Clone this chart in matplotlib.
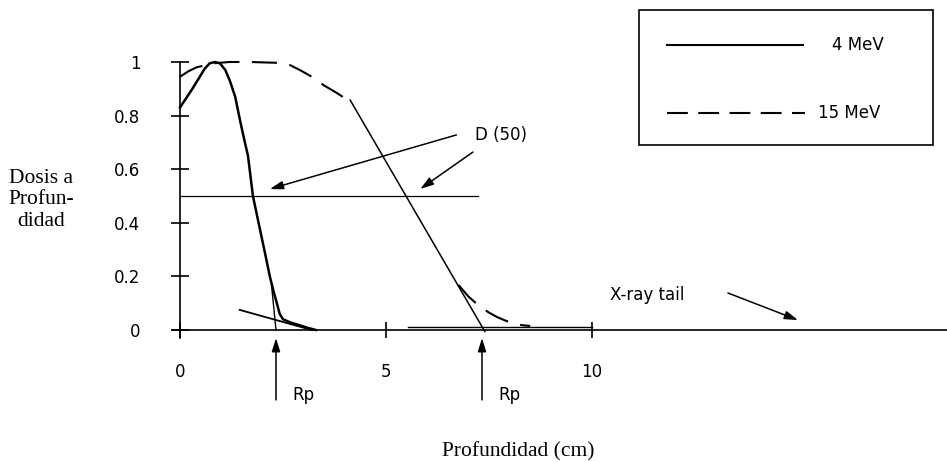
import numpy as np
import matplotlib
matplotlib.use("Agg")
import matplotlib.pyplot as plt

# depth-dose curves (x in cm, relative dose)
mev4_x = [0, 0.3, 0.6, 0.72, 0.85, 0.97, 1.1, 1.21, 1.34, 1.46, 1.56, 1.65, 1.77, 1.88, 1.99,
          2.1, 2.18, 2.27, 2.35, 2.42, 2.5, 2.7, 2.9, 3.1, 3.3]
mev4_y = [0.83, 0.90, 0.975, 0.995, 1.0, 0.995, 0.97, 0.93, 0.87, 0.78, 0.71, 0.65, 0.50, 0.42, 0.34,
          0.26, 0.20, 0.145, 0.10, 0.06, 0.04, 0.027, 0.018, 0.008, 0.0]

mev15_x = np.array([0, 0.2, 0.4, 0.8, 1.2, 1.7, 2.35, 2.65, 2.91, 3.2, 3.48, 3.8, 4.13, 4.8, 5.5, 6.2,
                    6.76, 7.0, 7.28, 7.5, 7.7, 7.9, 8.08, 8.3, 8.5])
mev15_y = np.array([0.945, 0.965, 0.98, 0.995, 1.0, 1.0, 0.997, 0.99, 0.97, 0.945, 0.914, 0.885, 0.852,
                    0.68, 0.50, 0.32, 0.168, 0.125, 0.087, 0.065, 0.048, 0.035, 0.025, 0.018, 0.015])

# tangent lines used to define the practical range Rp
tan4_tail_x = [1.45, 3.2]
tan4_tail_y = [0.075, 0.0]
tan4_steep_x = [2.22, 2.33]
tan4_steep_y = [0.17, 0.0]
tan15_x = [4.13, 7.4]
tan15_y = [0.858, -0.006]

xray_x = [5.53, 10.0]
xray_y = [0.012, 0.012]

d50_level = 0.5
d50_xmax = 7.23
rp_values = [2.33, 7.33]

yticks = [0, 0.2, 0.4, 0.6, 0.8, 1]
ytick_labels = ["0", "0.2", "0.4", "0.6", "0.8", "1"]
xticks = [0, 5, 10]
xtick_labels = ["0", "5", "10"]
series_labels = ["4 MeV", "15 MeV"]

W, H = 947, 462
fig = plt.figure(figsize=(W / 100, H / 100), dpi=100)
ax = fig.add_axes([0, 0, 1, 1])

# pixel mapping: x=0 -> 180px, 41.2 px/cm ; y=0 -> 330px, 268 px/unit
ax.set_xlim(-180 / 41.2, (W - 180) / 41.2)
ax.set_ylim((330 - H) / 268, 330 / 268)

sans = "DejaVu Sans"
serif = "Liberation Serif"

for s in ["top", "right"]:
    ax.spines[s].set_visible(False)
ax.spines["left"].set_position(("data", 0))
ax.spines["bottom"].set_position(("data", 0))
ax.spines["left"].set_bounds(-0.03, 1.0)
ax.spines["bottom"].set_bounds(-0.2, (W - 180) / 41.2)
ax.spines["left"].set_linewidth(1.2)
ax.spines["bottom"].set_linewidth(1.2)

ax.set_yticks(yticks)
ax.set_yticklabels(ytick_labels, fontfamily=sans, fontsize=12)
ax.set_xticks(xticks)
ax.set_xticklabels(xtick_labels, fontfamily=sans, fontsize=12)
ax.tick_params(axis="y", direction="inout", length=13, width=1.2, pad=22)
ax.tick_params(axis="x", direction="inout", length=12, width=1.2, pad=18)

# curves
ax.plot(mev4_x, mev4_y, color="black", lw=1.8)
# the falloff of the 15 MeV curve is hidden under its tangent in the original
top = mev15_x <= 4.13
tail = mev15_x >= 6.76
ax.plot(mev15_x[top], mev15_y[top], color="black", lw=1.5, dashes=(12, 6))
ax.plot(mev15_x[tail], mev15_y[tail], color="black", lw=1.5, dashes=(12, 6))
ax.plot(tan4_tail_x, tan4_tail_y, color="black", lw=1.3)
ax.plot(tan4_steep_x, tan4_steep_y, color="black", lw=1.0)
ax.plot(tan15_x, tan15_y, color="black", lw=1.1)
ax.plot(xray_x, xray_y, color="black", lw=1.0)
ax.plot([0, d50_xmax], [d50_level, d50_level], color="black", lw=0.9)

arrow = dict(arrowstyle="-|>,head_length=0.8,head_width=0.25", color="black", lw=1.1,
             shrinkA=0, shrinkB=0)

# D(50) annotation
ax.text(7.16, 0.728, "D (50)", fontfamily=sans, fontsize=12, ha="left", va="center")
ax.annotate("", xy=(2.18, 0.526), xytext=(6.71, 0.728), arrowprops=arrow)
ax.annotate("", xy=(5.83, 0.526), xytext=(7.11, 0.664), arrowprops=arrow)

# X-ray tail
ax.text(10.44, 0.131, "X-ray tail", fontfamily=sans, fontsize=12, ha="left", va="center")
ax.annotate("", xy=(15.0, 0.037), xytext=(13.3, 0.138), arrowprops=arrow)

# Rp markers
for rp in rp_values:
    ax.annotate("", xy=(rp, -0.03), xytext=(rp, -0.261), arrowprops=arrow)
    ax.text(rp + 0.39, -0.243, "Rp", fontfamily=sans, fontsize=12, ha="left", va="center")

# axis titles
ax.text(41 / W, 1 - 200 / H, "Dosis a\nProfun-\ndidad", transform=ax.transAxes,
        fontfamily=serif, fontsize=15.5, ha="center", va="center", linespacing=1.15)
ax.text(518 / W, 1 - 452 / H, "Profundidad (cm)", transform=ax.transAxes,
        fontfamily=serif, fontsize=15.5, ha="center", va="center")

# hand-drawn style legend box
fx = lambda px: px / W
fy = lambda py: 1 - py / H
box = plt.Rectangle((fx(639), fy(145)), fx(933) - fx(639), fy(10) - fy(145),
                    transform=ax.transAxes, fill=False, lw=1.2, color="black")
ax.add_patch(box)
ax.plot([fx(667), fx(803)], [fy(45), fy(45)], transform=ax.transAxes, color="black", lw=1.5)
ax.plot([fx(667), fx(805)], [fy(113), fy(113)], transform=ax.transAxes, color="black",
        lw=1.5, dashes=(10, 5))
ax.text(fx(832), fy(45), series_labels[0], transform=ax.transAxes, fontfamily=sans,
        fontsize=12, ha="left", va="center")
ax.text(fx(818), fy(113), series_labels[1], transform=ax.transAxes, fontfamily=sans,
        fontsize=12, ha="left", va="center")

fig.savefig("out.png", dpi=100)
